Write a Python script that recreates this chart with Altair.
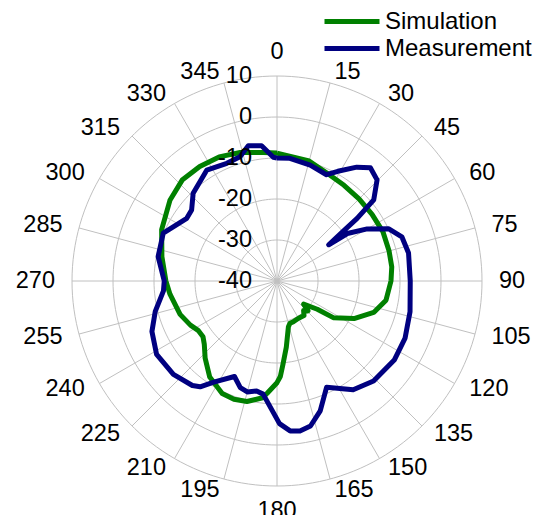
import altair as alt
import pandas as pd

# ---------------- data ----------------
series_names = ["Simulation", "Measurement"]
series_colors = ["#008000", "#000080"]

sim_angle = [0, 15, 25, 35, 45, 55, 65, 75, 83, 90, 100, 108, 116, 123, 125, 131,
             134, 138, 142, 150, 158, 163, 166, 172, 176, 178, 180, 185, 187, 194,
             200, 206, 215, 223, 229, 233, 238, 243, 251, 263, 270, 282, 294, 307,
             317, 326, 335, 344, 354, 360]
sim_db = [-8.8, -9.7, -11.0, -11.5, -11.7, -11.7, -11.5, -11.7, -11.8, -12.2, -13.0,
          -15.2, -19.1, -23.5, -28.0, -31.4, -29.5, -30.3, -29.3, -29.5, -29.3, -29.2,
          -28.5, -23.7, -19.5, -16.7, -15.2, -12.5, -11.3, -9.7, -9.3, -9.5, -11.4,
          -14.3, -16.5, -17.4, -17.3, -16.3, -15.0, -13.7, -12.9, -11.3, -9.2, -7.3,
          -6.2, -6.3, -6.6, -7.4, -8.5, -8.8]

meas_angle = [0, 6, 16, 25, 29, 35, 39.5, 44.7, 50, 52, 53, 55, 56, 60, 65, 70.5, 78,
              90, 103, 114, 124, 136, 145, 155, 161.6, 167, 171.3, 175, 179, 187,
              190.5, 195, 199, 204, 212, 216, 219, 228, 238.6, 248, 256, 265, 270,
              281.6, 292.8, 304.8, 309.8, 316.3, 327.6, 336.9, 343.4, 348, 353.5,
              358.3, 360]
meas_db = [-10.0, -9.9, -10.6, -11.4, -9.4, -6.1, -4.2, -5.3, -9.2, -15.2, -19.5,
           -24.6, -19.3, -14.6, -9.9, -7.7, -7.2, -7.5, -6.7, -5.8, -5.5, -6.1, -7.6,
           -11.4, -6.6, -3.7, -3.0, -3.3, -5.2, -12.2, -12.7, -12.0, -12.5, -14.5,
           -10.9, -8.1, -7.2, -6.0, -5.6, -7.1, -9.4, -12.2, -12.5, -10.4, -9.9,
           -13.2, -12.9, -10.4, -8.0, -8.8, -8.4, -6.3, -6.8, -9.8, -10.0]

ring_values = [10, 0, -10, -20, -30, -40]
spoke_angles = list(range(0, 360, 15))
angle_labels = [str(a) for a in spoke_angles]

# ---------------- layout constants ----------------
R_MIN = -40          # value at the centre
PX = 4.1             # pixels per dB
W, H = 536, 507
CX, CY = 269, 273    # centre inside the plot area
FONT = "Liberation Sans"
GRID = "#c0c0c0"
TICK_FS = 23.5

xs = alt.Scale(domain=[-CX / PX, (W - CX) / PX], nice=False, zero=False)
ys = alt.Scale(domain=[-(H - CY) / PX, CY / PX], nice=False, zero=False)

# ---------------- tables ----------------
df_series = pd.concat([
    pd.DataFrame({"series": series_names[0], "angle": sim_angle, "db": sim_db,
                  "idx": range(len(sim_angle))}),
    pd.DataFrame({"series": series_names[1], "angle": meas_angle, "db": meas_db,
                  "idx": range(len(meas_angle))}),
])

df_rings = pd.DataFrame([(v, a) for v in ring_values if v > R_MIN
                         for a in range(0, 361, 2)], columns=["ring", "angle"])
df_spokes = pd.DataFrame({"angle": spoke_angles})
df_rlab = pd.DataFrame({"ring": ring_values, "label": [str(v) for v in ring_values]})
df_alab = pd.DataFrame({"angle": spoke_angles, "label": angle_labels})

X = alt.X("x:Q", scale=xs, axis=None)
Y = alt.Y("y:Q", scale=ys, axis=None)

rings = alt.Chart(df_rings).transform_calculate(
    x=f"(datum.ring - ({R_MIN})) * sin(datum.angle * PI / 180)",
    y=f"(datum.ring - ({R_MIN})) * cos(datum.angle * PI / 180)",
).mark_line(color=GRID, strokeWidth=1).encode(
    x=X, y=Y, detail="ring:N", order="angle:Q")

spokes = alt.Chart(df_spokes).transform_calculate(
    x="0", y="0",
    x2=f"({ring_values[0]} - ({R_MIN})) * sin(datum.angle * PI / 180)",
    y2=f"({ring_values[0]} - ({R_MIN})) * cos(datum.angle * PI / 180)",
).mark_rule(color=GRID, strokeWidth=1).encode(
    x=X, y=Y, x2="x2:Q", y2="y2:Q")

color = alt.Color(
    "series:N",
    scale=alt.Scale(domain=series_names, range=series_colors),
    legend=alt.Legend(
        orient="none", legendX=314, legendY=0, title=None,
        symbolType="stroke", symbolSize=3025, symbolStrokeWidth=5,
        clipHeight=27, labelFontSize=24, labelFont=FONT, labelColor="black",
        labelOffset=3, rowPadding=0, padding=0, labelLimit=400,
    ),
)


def series_layer(name):
    return alt.Chart(df_series).transform_filter(
        alt.datum.series == name
    ).transform_calculate(
        x=f"(datum.db - ({R_MIN})) * sin(datum.angle * PI / 180)",
        y=f"(datum.db - ({R_MIN})) * cos(datum.angle * PI / 180)",
    ).mark_line(strokeWidth=5, strokeJoin="round").encode(
        x=X, y=Y, color=color, order="idx:Q")


radial_labels = alt.Chart(df_rlab).transform_calculate(
    x="0", y=f"datum.ring - ({R_MIN})"
).mark_text(font=FONT, fontSize=TICK_FS, align="right", baseline="middle", dx=-25,
            color="black").encode(x=X, y=Y, text="label:N")


def angle_layer(filt, align, baseline, rx, ry):
    return alt.Chart(df_alab).transform_filter(filt).transform_calculate(
        x=f"{rx / PX} * sin(datum.angle * PI / 180)",
        y=f"{ry / PX} * cos(datum.angle * PI / 180)",
    ).mark_text(font=FONT, fontSize=TICK_FS, align=align, baseline=baseline,
                color="black").encode(x=X, y=Y, text="label:N")


lab_right = angle_layer("datum.angle > 0 && datum.angle < 180", "left", "middle", 222, 216)
lab_left = angle_layer("datum.angle > 180", "right", "middle", 222, 216)
lab_top = angle_layer("datum.angle == 0", "center", "bottom", 217, 217)
lab_bottom = angle_layer("datum.angle == 180", "center", "top", 218, 218)

chart = alt.layer(
    rings, spokes, series_layer(series_names[0]), series_layer(series_names[1]),
    radial_labels, lab_right, lab_left, lab_top, lab_bottom,
).properties(
    width=W, height=H, padding=0,
    autosize=alt.AutoSizeParams(type="none"),
).configure_view(stroke=None)

chart.save("out.html", embed_options={"renderer": "svg", "actions": False})
